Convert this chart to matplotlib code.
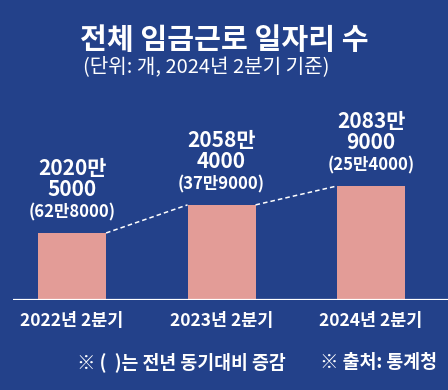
import matplotlib
matplotlib.use('Agg')
import matplotlib.pyplot as plt

plt.rcParams['font.family'] = ['Noto Sans CJK KR', 'DejaVu Sans']

quarters = ['2022년 2분기', '2023년 2분기', '2024년 2분기']
jobs = [20205000, 20584000, 20839000]
top_lines = ['2020만', '2058만', '2083만']
bottom_lines = ['5000', '4000', '9000']
changes = ['(62만8000)', '(37만9000)', '(25만4000)']

bg = '#23418a'
bar_color = '#e39c97'

fig = plt.figure(figsize=(4.48, 3.90), dpi=100, facecolor=bg)
ax = fig.add_axes([13/448, 90/390, 435/448, 200/390])
ax.set_facecolor(bg)

x = list(range(len(jobs)))
w = 0.455
bars = ax.bar(x, jobs, width=w, color=bar_color, zorder=2)

ax.set_xlim(-0.395, 2.515)
ax.set_ylim(19301000, 19301000 + 200 * 13489)

# dashed connectors between bar tops
for i in range(len(jobs) - 1):
    ax.plot([x[i] + w/2, x[i+1] - w/2], [jobs[i], jobs[i+1]],
            color='white', ls=(0, (3, 2)), lw=1.1, zorder=3)

for i, v in enumerate(jobs):
    ax.annotate(changes[i], (x[i], v), xytext=(0, 15), textcoords='offset points',
                ha='center', va='center', color='white', fontsize=12, fontweight='bold')
    ax.annotate(bottom_lines[i], (x[i], v), xytext=(0, 31), textcoords='offset points',
                ha='center', va='center', color='white', fontsize=15, fontweight='bold')
    ax.annotate(top_lines[i], (x[i], v), xytext=(0, 46.5), textcoords='offset points',
                ha='center', va='center', color='white', fontsize=15, fontweight='bold')

ax.axhline(19301000, color='white', lw=1.6, zorder=4)
for s in ax.spines.values():
    s.set_visible(False)
ax.set_yticks([])
ax.set_xticks(x)
ax.set_xticklabels(quarters, color='white', fontsize=12.5, fontweight='bold',
                   family=['Liberation Sans Narrow', 'Noto Sans CJK KR'])
ax.tick_params(axis='x', length=0, pad=9)

fig.text(224/448, 1 - 40/390, '전체 임금근로 일자리 수', ha='center', va='center',
         color='white', fontsize=21, fontweight='bold')
fig.text(206/448, 1 - 67/390, '(단위: 개, 2024년 2분기 기준)', ha='center', va='center',
         color='white', fontsize=14.5, fontweight='medium',
         family=['Liberation Sans Narrow', 'Noto Sans CJK KR'])

fig.text(181/448, 1 - 362/390, '※ (  )는 전년 동기대비 증감', ha='center', va='center',
         color='white', fontsize=13.2, fontweight='bold')
fig.text(378/448, 1 - 362/390, '※ 출처: 통계청', ha='center', va='center',
         color='white', fontsize=13.2, fontweight='bold')

plt.savefig('out.png', dpi=100, facecolor=bg)
